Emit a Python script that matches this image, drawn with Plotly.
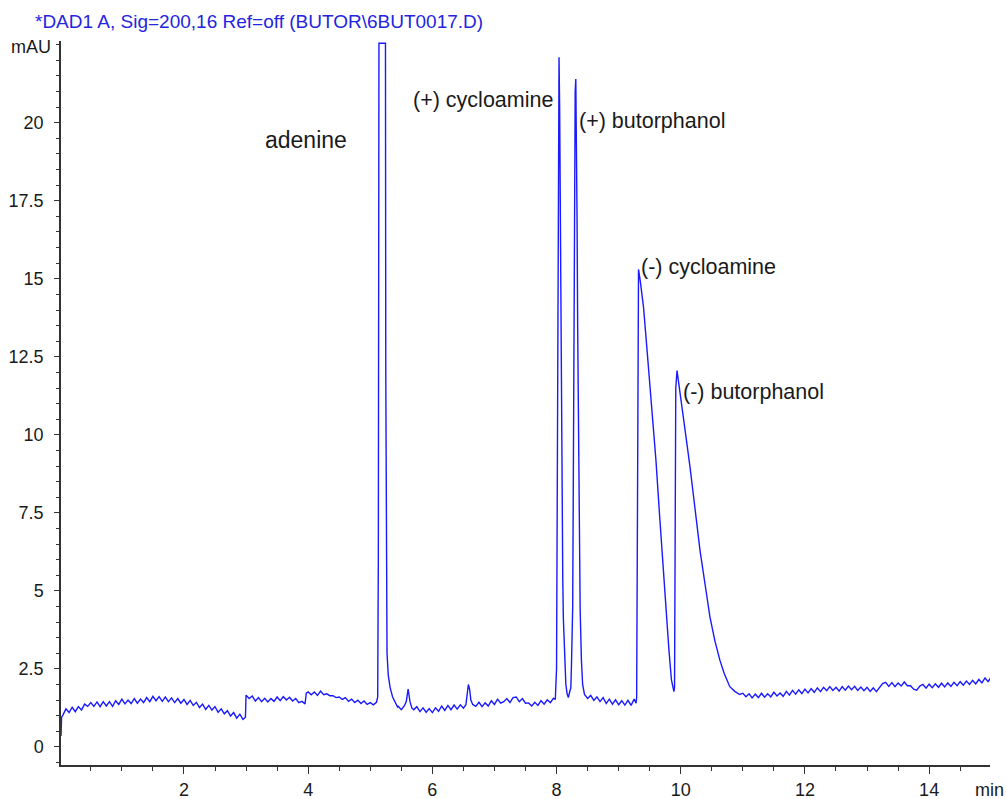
import numpy as np
import plotly.graph_objects as go

# ---------------- data ----------------
# baseline segment 1 : 0.05 .. 2.95 min, step 0.05
base1_t0, base1_dt = 0.05, 0.05
base1_mau = [1.02, 1.22, 1.10, 1.27, 1.13, 1.29, 1.18, 1.37, 1.30, 1.42,
             1.30, 1.44, 1.29, 1.45, 1.31, 1.45, 1.30, 1.48, 1.36, 1.53,
             1.38, 1.50, 1.39, 1.55, 1.40, 1.53, 1.42, 1.58, 1.45, 1.62,
             1.48, 1.61, 1.46, 1.60, 1.45, 1.57, 1.42, 1.55, 1.40, 1.52,
             1.36, 1.49, 1.33, 1.43, 1.26, 1.37, 1.20, 1.33, 1.18, 1.29,
             1.11, 1.22, 1.06, 1.16, 0.99, 1.10, 0.92, 1.05, 0.88]
start_t = [0.02, 0.03]
start_mau = [0.35, 0.95]

# baseline segment 2 : 3.00 .. 3.95 min
step1_t = [2.99]
step1_mau = [0.95]
base2_t0, base2_dt = 3.00, 0.05
base2_mau = [1.66, 1.55, 1.63, 1.47, 1.58, 1.45, 1.56, 1.44, 1.55, 1.46,
             1.60, 1.48, 1.61, 1.50, 1.59, 1.47, 1.55, 1.42, 1.46, 1.38]

# baseline segment 3 : 4.00 .. 5.10 min
step2_t = [3.97]
step2_mau = [1.72]
base3_t0, base3_dt = 4.00, 0.05
base3_mau = [1.76, 1.67, 1.76, 1.65, 1.79, 1.67, 1.70, 1.64, 1.64, 1.58,
             1.60, 1.52, 1.58, 1.46, 1.53, 1.42, 1.50, 1.39, 1.47, 1.36,
             1.42, 1.35, 1.43]

# adenine (off-scale, clipped by the detector display)
adenine_t = [5.12, 5.13, 5.14, 5.245, 5.25, 5.26, 5.27, 5.29, 5.32, 5.36, 5.40, 5.44]
adenine_mau = [1.60, 6.00, 22.55, 22.55, 12.0, 4.0, 3.0, 2.3, 1.9, 1.6, 1.42, 1.28]

# baseline with two small impurity peaks : 5.45 .. 7.98 min
mid_t = [5.45, 5.50, 5.55, 5.58, 5.61, 5.64, 5.67, 5.70, 5.75, 5.80,
         5.85, 5.90, 5.95, 6.00, 6.05, 6.10, 6.15, 6.20, 6.25, 6.30,
         6.35, 6.40, 6.45, 6.50, 6.54, 6.56, 6.58, 6.60, 6.62, 6.65,
         6.70, 6.75, 6.80, 6.85, 6.90, 6.95, 7.00, 7.05, 7.10, 7.15,
         7.20, 7.25, 7.30, 7.35, 7.40, 7.45, 7.50, 7.55, 7.60, 7.65,
         7.70, 7.75, 7.80, 7.85, 7.90, 7.95, 7.98]
mid_mau = [1.30, 1.19, 1.32, 1.45, 1.85, 1.45, 1.25, 1.19, 1.29, 1.13,
           1.25, 1.11, 1.23, 1.10, 1.25, 1.14, 1.31, 1.17, 1.33, 1.19,
           1.34, 1.21, 1.35, 1.24, 1.35, 1.70, 2.00, 1.85, 1.50, 1.36,
           1.30, 1.43, 1.29, 1.41, 1.31, 1.48, 1.36, 1.53, 1.40, 1.45,
           1.55, 1.42, 1.58, 1.60, 1.45, 1.55, 1.40, 1.41, 1.31, 1.43,
           1.33, 1.48, 1.37, 1.51, 1.42, 1.56, 1.52]

# (+) cycloamine and (+) butorphanol
plus_t = [8.00, 8.01, 8.02, 8.03, 8.04, 8.05, 8.06, 8.07, 8.08, 8.09,
          8.10, 8.11, 8.13, 8.15, 8.17, 8.19, 8.21, 8.23, 8.24, 8.25,
          8.26, 8.27, 8.28, 8.29, 8.30, 8.31, 8.32, 8.33, 8.34, 8.35,
          8.36, 8.37, 8.38, 8.40, 8.42]
plus_mau = [2.5, 7.0, 14.0, 20.0, 22.1, 20.5, 16.5, 12.5, 9.5, 7.2,
            5.4, 4.1, 2.7, 2.0, 1.7, 1.58, 1.75, 1.9, 2.6, 3.3,
            4.5, 8.5, 14.0, 18.5, 21.0, 21.4, 20.0, 17.0, 13.5, 10.5,
            8.0, 6.0, 4.4, 2.8, 2.0]

# baseline 8.45 .. 9.29 min
base4_t = [8.45, 8.50, 8.55, 8.60, 8.65, 8.70, 8.75, 8.80, 8.85, 8.90,
           8.95, 9.00, 9.05, 9.10, 9.15, 9.20, 9.25, 9.28, 9.29]
base4_mau = [1.68, 1.55, 1.65, 1.49, 1.60, 1.45, 1.58, 1.39, 1.53, 1.37,
             1.51, 1.35, 1.48, 1.34, 1.49, 1.33, 1.53, 1.40, 1.58]

# (-) cycloamine and (-) butorphanol
minus_t = [9.30, 9.31, 9.32, 9.35, 9.40, 9.45, 9.50, 9.56, 9.60, 9.66,
           9.70, 9.77, 9.81, 9.85, 9.88, 9.89, 9.90, 9.91, 9.92, 9.94,
           10.01, 10.05, 10.10, 10.15, 10.20, 10.25, 10.31, 10.35, 10.40, 10.47,
           10.55, 10.63, 10.70, 10.79, 10.87, 10.95]
minus_mau = [8.0, 15.0, 15.3, 14.9, 14.1, 12.9, 11.7, 10.4, 9.2, 7.4,
             6.2, 4.2, 3.1, 2.15, 1.8, 1.77, 1.9, 6.0, 11.5, 12.06,
             11.1, 10.5, 9.7, 8.96, 8.2, 7.3, 6.3, 5.7, 5.1, 4.17,
             3.4, 2.78, 2.35, 1.93, 1.78, 1.68]

# late baseline 11.00 .. 15.00 min
base5_t0, base5_dt = 11.00, 0.05
base5_mau = [1.72, 1.61, 1.70, 1.57, 1.69, 1.58, 1.72, 1.59, 1.70, 1.60,
             1.75, 1.63, 1.73, 1.62, 1.78, 1.66, 1.81, 1.69, 1.83, 1.71,
             1.85, 1.73, 1.87, 1.75, 1.89, 1.77, 1.91, 1.80, 1.93, 1.81,
             1.91, 1.79, 1.93, 1.82, 1.95, 1.83, 1.94, 1.81, 1.92, 1.80,
             1.91, 1.78, 1.89, 1.77, 1.91, 2.03, 2.07, 1.94, 2.06, 1.93,
             2.05, 1.95, 2.08, 1.96, 1.96, 1.85, 1.82, 1.95, 2.00, 1.88,
             2.01, 1.90, 2.02, 1.91, 2.04, 1.92, 2.05, 1.94, 2.07, 1.96,
             2.09, 1.98, 2.11, 2.00, 2.13, 2.02, 2.16, 2.05, 2.21, 2.09,
             2.24]

peak_labels = ["adenine", "(+) cycloamine", "(+) butorphanol",
               "(-) cycloamine", "(-) butorphanol"]
label_t = [3.97, 5.65, 8.33, 9.33, 10.00]
label_mau = [19.45, 20.72, 20.05, 15.37, 11.38]
label_anchor = ["center", "left", "left", "left", "left"]

x_tickvals = [2, 4, 6, 8, 10, 12, 14]
y_tickvals = [0, 2.5, 5, 7.5, 10, 12.5, 15, 17.5, 20]
y_ticktext = ["0", "2.5", "5", "7.5", "10", "12.5", "15", "17.5", "20"]

title_text = "*DAD1 A, Sig=200,16 Ref=off (BUTOR\\6BUT0017.D)"


def grid(t0, dt, vals):
    return list(np.round(t0 + dt * np.arange(len(vals)), 4))


time_min = (start_t + grid(base1_t0, base1_dt, base1_mau) + step1_t
            + grid(base2_t0, base2_dt, base2_mau) + step2_t
            + grid(base3_t0, base3_dt, base3_mau) + adenine_t + mid_t
            + plus_t + base4_t + minus_t
            + grid(base5_t0, base5_dt, base5_mau))
signal = (start_mau + base1_mau + step1_mau + base2_mau + step2_mau
          + base3_mau + adenine_mau + mid_mau + plus_mau + base4_mau
          + minus_mau + base5_mau)

FONT = "Liberation Sans, Arial, Helvetica, sans-serif"
AXC = "#333333"
W, H = 1006, 799

fig = go.Figure()
fig.add_trace(go.Scatter(x=time_min, y=signal, mode="lines",
                         line=dict(color="#1a1aff", width=1.4),
                         hoverinfo="skip", showlegend=False))

for txt, tx, ty, anc in zip(peak_labels, label_t, label_mau, label_anchor):
    fig.add_annotation(x=tx, y=ty, xref="x", yref="y", text=txt,
                       showarrow=False, xanchor=anc, yanchor="middle",
                       font=dict(family=FONT, size=23 if txt == "adenine" else 21.5,
                                 color="#1a1a1a"))

fig.add_annotation(x=0, y=1, xref="paper", yref="paper", text="mAU",
                   showarrow=False, xanchor="right", yanchor="middle",
                   xshift=-8, yshift=-6,
                   font=dict(family=FONT, size=18, color="#1a1a1a"))
fig.add_annotation(x=1, y=0, xref="paper", yref="paper", text="min",
                   showarrow=False, xanchor="center", yanchor="top",
                   xshift=-1, yshift=-13,
                   font=dict(family=FONT, size=18, color="#1a1a1a"))

fig.update_layout(
    width=W, height=H,
    margin=dict(l=61, r=16, t=41, b=34, autoexpand=False),
    paper_bgcolor="white", plot_bgcolor="white",
    title=dict(text=title_text, xref="container", yref="container",
               x=35 / W, y=1 - 21 / H, xanchor="left", yanchor="middle",
               font=dict(family=FONT, size=19, color="#2525e0")),
    xaxis=dict(range=[0.02, 14.98], showgrid=False, zeroline=False,
               automargin=False,
               showline=True, linecolor=AXC, linewidth=1.5,
               ticks="outside", ticklen=7, tickwidth=1.2, tickcolor=AXC,
               tickvals=x_tickvals, ticklabelstandoff=1,
               tickfont=dict(family=FONT, size=18, color="#1a1a1a"),
               minor=dict(dtick=0.5, tick0=0, ticks="outside", ticklen=4,
                          tickwidth=1.2, tickcolor=AXC)),
    yaxis=dict(range=[-0.58, 22.62], showgrid=False, zeroline=False,
               automargin=False,
               showline=True, linecolor=AXC, linewidth=1.5,
               ticks="outside", ticklen=5, tickwidth=1.2, tickcolor=AXC,
               tickvals=y_tickvals, ticktext=y_ticktext, ticklabelstandoff=7,
               tickfont=dict(family=FONT, size=18, color="#1a1a1a"),
               minor=dict(dtick=0.5, tick0=0, ticks="outside", ticklen=3,
                          tickwidth=1.2, tickcolor=AXC)),
)

# remove the browser's default 8 px body margin so the 1006x799 figure fits the window
fig.write_html("out.html",
               config={"displayModeBar": False},
               post_script="document.body.style.margin='0';"
                           "document.body.style.overflow='hidden';")
